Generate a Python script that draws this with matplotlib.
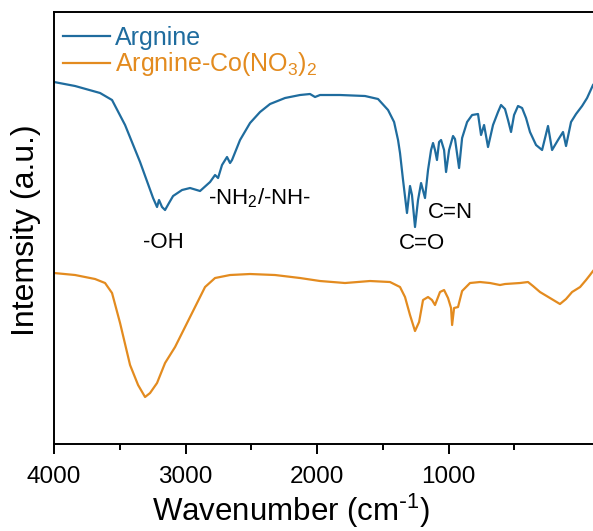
import matplotlib
matplotlib.use("Agg")
import matplotlib.pyplot as plt
import numpy as np

plt.rcParams['font.family'] = ['Liberation Sans', 'DejaVu Sans']
plt.rcParams['mathtext.default'] = 'regular'

# FTIR spectra (wavenumber in tick units, intensity a.u.)
wn_arg = [4000, 3840, 3650, 3559, 3460, 3346, 3247, 3217, 3202, 3179, 3156, 3126, 3095,
          3027, 2966, 2890, 2814, 2776, 2753, 2723, 2685, 2662, 2647, 2586, 2510, 2434,
          2358, 2244, 2130, 2054, 2016, 1978, 1826, 1636, 1537, 1461, 1415, 1385, 1370,
          1347, 1317, 1294, 1279, 1256, 1233, 1210, 1180, 1157, 1134, 1119, 1104, 1089,
          1073, 1058, 1035, 1020, 997, 967, 952, 921, 898, 860, 822, 777, 754, 731, 701,
          663, 625, 602, 572, 549, 526, 503, 473, 442, 412, 382, 336, 290, 245, 214, 169,
          131, 108, 70, 32, -14, -52, -97]
int_arg = [362, 358, 351, 344, 319, 282, 246, 237, 244, 237, 234, 241, 248,
           254, 256, 253, 262, 269, 266, 279, 287, 281, 284, 304, 321, 332,
           340, 346, 349, 350, 347, 349, 349, 348, 345, 334, 322, 304, 291,
           264, 231, 258, 249, 217, 244, 261, 246, 274, 294, 301, 294, 284,
           302, 304, 294, 272, 294, 308, 305, 276, 306, 322, 329, 330, 309, 319, 297,
           319, 332, 339, 335, 324, 312, 329, 338, 336, 326, 312, 299, 294, 318, 294, 304,
           312, 298, 322, 330, 338, 346, 359]

wn_co = [4000, 3840, 3688, 3612, 3559, 3498, 3422, 3361, 3308, 3270, 3217, 3156, 3080,
         2966, 2852, 2776, 2662, 2510, 2320, 2130, 1978, 1788, 1598, 1446, 1370, 1332,
         1294, 1256, 1225, 1195, 1157, 1127, 1104, 1066, 1035, 1005, 982, 974, 959, 929,
         898, 838, 762, 686, 610, 572, 458, 397, 359, 306, 230, 154, 108, 62, 1, -44,
         -74, -97]
int_co = [171, 169, 165, 161, 151, 121, 79, 59, 47, 51, 61, 81, 97,
          127, 157, 166, 169, 170, 169, 166, 163, 161, 163, 162, 157, 147,
          129, 113, 122, 144, 147, 144, 139, 152, 154, 146, 136, 119, 136, 137,
          153, 161, 162, 161, 159, 160, 161, 162, 158, 152, 146, 140, 145, 152, 157, 164,
          169, 173]

labels = ['Argnine', 'Argnine-Co(NO$_3$)$_2$']
colors = ['#1f6c9e', '#e38b1f']

fig = plt.figure(figsize=(5.93, 5.31), dpi=100)
ax = fig.add_axes([0.0911, 0.1638, 0.9089, 0.8136])

ax.plot(wn_arg, int_arg, color=colors[0], lw=1.6, label=labels[0])
ax.plot(wn_co, int_co, color=colors[1], lw=1.6, label=labels[1])

ax.set_xlim(4000, -97)
ax.set_ylim(0, 432)
ax.set_xticks([4000, 3000, 2000, 1000])
ax.set_xticks([3500, 2500, 1500, 500], minor=True)
ax.set_yticks([])
ax.tick_params(axis='x', which='major', length=7, width=1.4, labelsize=17.5, pad=9)
ax.tick_params(axis='x', which='minor', length=4, width=1.4)
for s in ['left', 'bottom', 'top']:
    ax.spines[s].set_linewidth(1.4)
ax.spines['right'].set_visible(False)

ax.set_xlabel(r'Wavenumber (cm$^{\text{-}1}$)', fontsize=22.5)
ax.xaxis.set_label_coords(0.44, -0.11)
ax.set_ylabel('Intemsity (a.u.)', fontsize=23)
ax.yaxis.set_label_coords(-0.024, 0.495)

# peak annotations
ax.text(3171, 202, '-OH', fontsize=16, ha='center', va='center')
ax.text(2829, 246, '-NH$_2$/-NH-', fontsize=16, ha='left', va='center')
ax.text(1203, 201, 'C=O', fontsize=16, ha='center', va='center')
ax.text(1157, 232, 'C=N', fontsize=16, ha='left', va='center')

leg = ax.legend(loc='upper left', bbox_to_anchor=(0.016, 0.968), frameon=False,
                fontsize=18, handlelength=1.9, handletextpad=0.2,
                labelspacing=0.02, borderaxespad=0.0, borderpad=0.0,
                labelcolor='linecolor')

fig.savefig('out.png', dpi=100)
